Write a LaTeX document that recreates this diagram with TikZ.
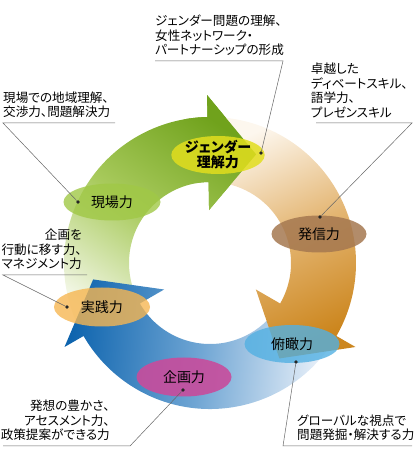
\documentclass[tikz,border=0pt]{standalone}
\usepackage{fontspec}
\setmainfont[RawFeature=+palt]{Noto Sans CJK JP}
\usetikzlibrary{positioning, shapes.geometric}
\definecolor{mGreen}{RGB}{112,162,28}
\definecolor{mGreenMid}{RGB}{168,202,92}
\definecolor{mGreenPale}{RGB}{246,249,236}
\definecolor{mOrange}{RGB}{204,134,30}
\definecolor{mOrangeMid}{RGB}{228,182,115}
\definecolor{mOrangePale}{RGB}{253,247,238}
\definecolor{mBlue}{RGB}{14,100,174}
\definecolor{mBlueMid}{RGB}{112,166,212}
\definecolor{mBluePale}{RGB}{242,246,252}
\definecolor{mYellow}{RGB}{226,222,30}
\definecolor{mLeaf}{RGB}{160,200,70}
\definecolor{mBrown}{RGB}{165,120,80}
\definecolor{mApricot}{RGB}{246,182,82}
\definecolor{mSky}{RGB}{82,176,226}
\definecolor{mMagenta}{RGB}{200,76,156}

% ring radii
\def\rIn{81pt}
\def\rOut{146pt}
\def\rHeadIn{53pt}
\def\rHeadOut{168pt}
\def\rTip{118pt}
% arrow along the ring: tail angle, head back angle, tip angle
\newcommand{\cyclearrow}[3]{%
  (#1:\rOut) arc[start angle=#1, end angle=#2, radius=\rOut]
  -- (#2:\rHeadOut) -- (#3:\rTip) -- (#2:\rHeadIn) -- (#2:\rIn)
  arc[start angle=#2, end angle=#1, radius=\rIn] -- cycle}

\begin{document}
\begin{tikzpicture}[x=1pt, y=1pt,
  greenarrow/.style={top color=mGreen, bottom color=mGreenPale, middle color=mGreenMid, shading angle=-35},
  orangearrow/.style={top color=mOrange, bottom color=mOrangePale, middle color=mOrangeMid, shading angle=-155},
  bluearrow/.style={top color=mBlue, bottom color=mBluePale, middle color=mBlueMid, shading angle=85},
  skill/.style={ellipse, inner sep=0pt, minimum width=95pt, minimum height=38pt,
                fill opacity=0.8, text opacity=1, font=\fontsize{14pt}{15pt}\selectfont},
  note/.style={inner sep=0pt, font=\fontsize{12.6pt}{14.6pt}\selectfont},
  dot/.style={circle, fill=black!85, inner sep=0pt, minimum size=3.6pt},
  lead/.style={black!60, line width=0.5pt},
]
  \useasboundingbox (0,0) rectangle (414,459);

  % Cycle of three arrows
  \begin{scope}[shift={(210,196)}]
    \shade[greenarrow] \cyclearrow{210}{91}{67};
    \shade[bluearrow] \cyclearrow{-30}{-150}{-172};
    \shade[orangearrow] \cyclearrow{91}{-30}{-54};
    % green head lies over the orange tail
    \begin{scope}
      \clip (0,0) -- (100:200pt) arc[start angle=100, end angle=50, radius=200pt] -- cycle;
      \shade[greenarrow] \cyclearrow{210}{91}{67};
    \end{scope}
  \end{scope}

  % Skill ellipses
  \node[skill, fill=mYellow, minimum width=84pt, fill opacity=0.85, inner ysep=-2pt,
        align=center, font=\fontsize{14pt}{15pt}\selectfont\bfseries] (gender) at (218,304) {ジェンダー\\理解力};
  \node[skill, fill=mLeaf, minimum width=97pt, minimum height=37pt] (field) at (112,257) {現場力};
  \node[skill, fill=mBrown, fill opacity=0.85, minimum height=37pt] (voice) at (319,225) {発信力};
  \node[skill, fill=mApricot, minimum width=96pt, minimum height=39pt] (action) at (102,152) {実践力};
  \node[skill, fill=mSky] (view) at (292,115) {俯瞰力};
  \node[skill, fill=mMagenta, fill opacity=0.9, minimum height=39pt] (plan) at (184,82) {企画力};

  % Dots
  \node[dot] (genderDot) at (261,306) {};
  \node[dot] (fieldDot) at (78,257) {};
  \node[dot] (voiceDot) at (320,242) {};
  \node[dot] (actionDot) at (67,152) {};
  \node[dot] (viewDot) at (296,97) {};
  \node[dot] (planDot) at (183,69) {};

  % Notes with leader lines
  \coordinate (genderL) at (155,398);
  \coordinate (genderR) at (283,398);
  \node[note, align=left, above right=5pt and 0pt of genderL] (genderNote)
    {ジェンダー問題の理解、\\女性ネットワーク・\\パートナーシップの形成};
  \draw[lead] (genderL) -- (genderR) -- (genderDot);

  \coordinate (fieldL) at (3,336);
  \coordinate (fieldR) at (115,336);
  \node[note, align=left, above right=5pt and 0pt of fieldL] (fieldNote)
    {現場での地域理解、\\交渉力、問題解決力};
  \draw[lead] (fieldR) -- (fieldL) -- (fieldDot);

  \coordinate (voiceL) at (316,336);
  \coordinate (voiceR) at (412,336);
  \node[note, align=left, above left=5pt and 4pt of voiceR] (voiceNote)
    {卓越した\\ディベートスキル、\\語学力、\\プレゼンスキル};
  \draw[lead] (voiceL) -- (voiceR) -- (voiceDot);

  \coordinate (actionL) at (3,184);
  \coordinate (actionR) at (87,184);
  \node[note, align=right, above left=5pt and 5pt of actionR] (actionNote)
    {企画を\\行動に移す力、\\マネジメント力};
  \draw[lead] (actionR) -- (actionL) -- (actionDot);

  \coordinate (planL) at (3,13);
  \coordinate (planR) at (130,13);
  \node[note, align=right, above left=5pt and 20pt of planR] (planNote)
    {発想の豊かさ、\\アセスメント力、\\政策提案ができる力};
  \draw[lead] (planL) -- (planR) -- (planDot);

  \coordinate (viewL) at (283,13);
  \coordinate (viewR) at (412,13);
  \node[note, align=left, above right=5pt and 14pt of viewL] (viewNote)
    {グローバルな視点で\\問題発掘・解決する力};
  \draw[lead] (viewR) -- (viewL) -- (viewDot);
\end{tikzpicture}
\end{document}
